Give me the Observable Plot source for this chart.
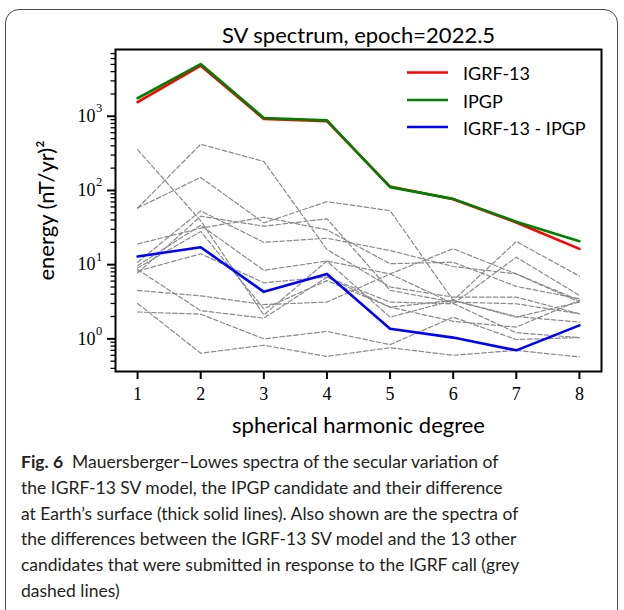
<!DOCTYPE html>
<html>
<head>
<meta charset="utf-8">
<script src="https://cdn.jsdelivr.net/npm/d3@7"></script>
<script src="https://cdn.jsdelivr.net/npm/@observablehq/plot@0.6"></script>
<style>
  body { margin: 0; background: #fff; }
  #wrap { position: relative; width: 624px; height: 610px; overflow: hidden; font-family: Lato, "Open Sans", sans-serif; }
  #box { position: absolute; left: 5px; top: 9px; width: 613px; height: 640px; border: 1.4px solid #4a4a4a; border-radius: 14px; box-sizing: border-box; }
  #chart { position: absolute; left: 0; top: 0; }
  #legend { position: absolute; left: 0; top: 0; }
  #caption { position: absolute; left: 21px; top: 449px; font-size: 17.5px; line-height: 25.8px; color: #231f20; white-space: nowrap; }
  #caption b { font-weight: 700; }
</style>
</head>
<body>
<div id="wrap">
  <div id="box"></div>
  <div id="chart"></div>
  <svg id="legend" width="624" height="160" font-family="Lato, sans-serif" font-size="18"></svg>
  <div id="caption"></div>
</div>
<script>
// ---- data ----
const degrees = [1, 2, 3, 4, 5, 6, 7, 8];
const igrf13 = [1550, 4800, 920, 860, 113, 76, 37, 16.3];
const ipgp = [1750, 5050, 950, 880, 111, 77, 38, 20.7];
const igrf13MinusIpgp = [12.9, 17.2, 4.3, 7.5, 1.37, 1.04, 0.70, 1.52];

// spectra of differences IGRF-13 SV minus the 13 other candidates (grey dashed)
const cand01 = [355, 39, 2.1, 11.2, 1.96, 3.3, 1.96, 3.13];
const cand02 = [58, 420, 246, 16, 5.0, 3.65, 3.65, 2.18];
const cand03 = [58, 150, 36.6, 70.7, 53.5, 3.3, 20.5, 7.0];
const cand04 = [19, 31, 43.6, 29.5, 10.3, 10.8, 5.1, 3.47];
const cand05 = [10.8, 53, 20, 22.7, 15.5, 9.45, 7.5, 3.3];
const cand06 = [9.7, 34, 8.4, 11.2, 7.5, 16.4, 7.5, 3.13];
const cand07 = [9.0, 28, 2.55, 6.1, 2.68, 1.72, 1.44, 3.3];
const cand08 = [8.2, 14, 5.7, 6.8, 3.13, 2.97, 12.6, 3.85];
const cand09 = [7.7, 45, 33, 41.5, 4.5, 3.13, 2.97, 2.18];
const cand10 = [4.5, 3.8, 2.9, 3.13, 7.5, 3.0, 1.21, 1.04];
const cand11 = [3.0, 0.64, 0.82, 0.58, 0.76, 0.6, 0.70, 0.57];
const cand12 = [2.3, 2.15, 1.0, 1.26, 0.835, 1.96, 0.98, 1.04];
const cand13 = [8.6, 2.4, 1.9, 6.8, 2.68, 3.3, 2.0, 1.68];
const candidates = [cand01, cand02, cand03, cand04, cand05, cand06, cand07, cand08, cand09, cand10, cand11, cand12, cand13];

const xTicks = [1, 2, 3, 4, 5, 6, 7, 8];
const yMajorTicks = [1, 10, 100, 1000];
const yTickExponents = ["0", "1", "2", "3"];

const titleText = "SV spectrum, epoch=2022.5";
const xLabel = "spherical harmonic degree";
const yLabel = "energy (nT/yr)²";
const legendLabels = ["IGRF-13", "IPGP", "IGRF-13 - IPGP"];
const legendColors = ["#ff0000", "#008000", "#0000ff"];

const captionLines = [
  "<b>Fig. 6</b>&nbsp; Mauersberger–Lowes spectra of the secular variation of",
  "the IGRF-13 SV model, the IPGP candidate and their difference",
  "at Earth’s surface (thick solid lines). Also shown are the spectra of",
  "the differences between the IGRF-13 SV model and the 13 other",
  "candidates that were submitted in response to the IGRF call (grey",
  "dashed lines)"
];

// ---- tables ----
const greyRows = candidates.flatMap((s, k) => s.map((v, i) => ({series: k, degree: degrees[i], value: v})));
const mainRows = (arr) => arr.map((v, i) => ({degree: degrees[i], value: v}));

const yDomain = [Math.pow(10, -0.44), Math.pow(10, 3.9)];
const minorTicks = [];
for (let e = -1; e <= 3; e++) for (let m = 2; m <= 9; m++) {
  const v = m * Math.pow(10, e);
  if (v >= yDomain[0] && v <= yDomain[1]) minorTicks.push(v);
}

const chart = Plot.plot({
  width: 624,
  height: 440,
  marginLeft: 115,
  marginRight: 23,
  marginTop: 49,
  marginBottom: 69,
  style: {fontFamily: "Lato, sans-serif", background: "transparent", overflow: "visible", color: "black"},
  x: {domain: [0.65, 8.35]},
  y: {type: "log", domain: yDomain},
  marks: [
    Plot.line(greyRows, {x: "degree", y: "value", z: "series", stroke: "#8a8a8a", strokeWidth: 1.2, strokeDasharray: "4.6,2.4"}),
    Plot.line(mainRows(igrf13), {x: "degree", y: "value", stroke: legendColors[0], strokeWidth: 2.6}),
    Plot.line(mainRows(ipgp), {x: "degree", y: "value", stroke: legendColors[1], strokeWidth: 2.6}),
    Plot.line(mainRows(igrf13MinusIpgp), {x: "degree", y: "value", stroke: legendColors[2], strokeWidth: 2.6}),
    Plot.frame({stroke: "black", strokeWidth: 2}),
    Plot.axisY(minorTicks, {anchor: "left", tickSize: 4.5, strokeWidth: 1.3, tickFormat: () => "", label: null}),
    Plot.axisY(yMajorTicks, {anchor: "left", tickSize: 8, strokeWidth: 2, tickFormat: () => "", label: null}),
    Plot.text(yMajorTicks, {y: d => d, text: () => "10", frameAnchor: "left", textAnchor: "end", lineAnchor: "middle", dx: -20, fontSize: 18, fontFamily: "Liberation Serif, serif"}),
    Plot.text(yMajorTicks, {y: d => d, text: (d, i) => yTickExponents[i], frameAnchor: "left", textAnchor: "start", lineAnchor: "middle", dx: -19.5, dy: -8, fontSize: 12.5, fontFamily: "Liberation Serif, serif"}),
    Plot.axisX(xTicks, {anchor: "bottom", tickSize: 8, tickPadding: 8, strokeWidth: 2, fontSize: 18, fontFamily: "Liberation Serif, serif", label: null}),
    Plot.text([titleText], {frameAnchor: "top", textAnchor: "middle", lineAnchor: "bottom", dy: -7, fontSize: 22}),
    Plot.text([xLabel], {frameAnchor: "bottom", textAnchor: "middle", lineAnchor: "bottom", dy: 61, fontSize: 22}),
    Plot.text([yLabel], {frameAnchor: "left", textAnchor: "middle", lineAnchor: "bottom", rotate: -90, dx: -62, fontSize: 22})
  ]
});
document.getElementById("chart").appendChild(chart);

// ---- legend ----
const lg = d3.select("#legend");
const legendY = [72.5, 100, 127];
legendLabels.forEach((lab, i) => {
  lg.append("line").attr("x1", 407).attr("x2", 448).attr("y1", legendY[i]).attr("y2", legendY[i])
    .attr("stroke", legendColors[i]).attr("stroke-width", 2.6);
  lg.append("text").attr("x", 463).attr("y", legendY[i] + 7.5).text(lab).attr("fill", "black");
});

// ---- caption ----
document.getElementById("caption").innerHTML = captionLines.map(l => `<div>${l}</div>`).join("");
</script>
</body>
</html>
